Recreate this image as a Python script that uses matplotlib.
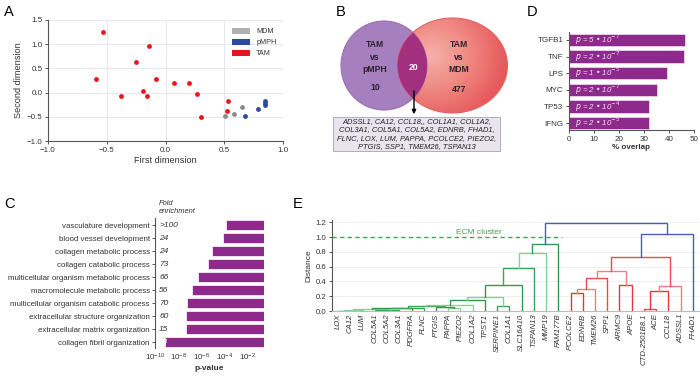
import numpy as np
import matplotlib.pyplot as plt
from matplotlib.patches import Ellipse, Patch, Rectangle
from matplotlib.colors import LinearSegmentedColormap

plt.rcParams['font.family'] = ['Liberation Sans', 'DejaVu Sans']

W, H = 700, 376

# panel A: MDS plot
tam_x = [-0.53, -0.59, -0.38, -0.25, -0.14, -0.19, -0.155, -0.08, 0.075, 0.20, 0.27, 0.305, 0.53, 0.52]
tam_y = [1.26, 0.29, -0.08, 0.63, 0.97, 0.03, -0.06, 0.29, 0.20, 0.19, -0.02, -0.50, -0.18, -0.39]
mdm_x = [0.505, 0.585, 0.65]
mdm_y = [-0.48, -0.44, -0.30]
pmph_x = [0.68, 0.785, 0.85, 0.85, 0.85]
pmph_y = [-0.49, -0.34, -0.18, -0.22, -0.25]

# panel B: venn counts
only_pmph = 10
shared = 20
only_mdm = 477
shared_genes = ["ADSSL1, CA12, CCL18,, COL1A1, COL1A2,",
                "COL3A1, COL5A1, COL5A2, EDNRB, FHAD1,",
                "FLNC, LOX, LUM, PAPPA, PCOLCE2, PIEZO2,",
                "PTGIS, SSP1, TMEM26, TSPAN13"]

# panel C: GO terms
go_terms = ["vasculature development", "blood vessel development",
            "collagen metabolic process", "collagen catabolic process",
            "multicellular organism metabolic process",
            "macromolecule metabolic process",
            "multicellular organism catabolic process",
            "extracellular structure organization",
            "extracellular matrix organization", "collagen fibril organization"]
go_logp = [-3.9, -4.1, -5.05, -5.4, -6.3, -6.85, -7.2, -7.3, -7.3, -9.1]
go_fold = [">100", "24", "24", "73", "66", "56", "70", "60", "15", "14"]

# panel D: upstream regulators
regulators = ["TGFB1", "TNF", "LPS", "MYC", "TP53", "IFNG"]
overlap_pct = [46.2, 46.1, 39.3, 35.1, 32.1, 32.1]
reg_p_mant = [5, 2, 1, 2, 2, 2]
reg_p_exp = [-7, -7, -5, -7, -4, -5]

# panel E: hierarchical clustering
leaf_names = ["LOX", "CA12", "LUM", "COL5A1", "COL5A2", "COL3A1", "PDGFRA", "FLNC",
              "PTGIS", "PAPPA", "PIEZO2", "COL1A2", "TPST1", "SERPINE1", "COL1A1",
              "SLC16A10", "TSPAN13", "MMP19", "FAM177B", "PCOLCE2", "EDNRB", "TMEM26",
              "SPP1", "ARMC9", "APOE", "CTD-2501B8.1", "ACE", "CCL18", "ADSSL1", "FHAD1"]
merge_left = [0, 30, 3, 32, 31, 34, 35, 9, 8, 36, 39, 40, 13, 41, 43, 44, 45, 46,
              19, 48, 49, 23, 50, 25, 53, 54, 52, 56, 47]
merge_right = [1, 2, 4, 5, 33, 6, 7, 10, 37, 38, 11, 12, 14, 42, 15, 16, 17, 18,
               20, 21, 22, 24, 51, 26, 27, 28, 55, 29, 57]
merge_height = [0.006, 0.012, 0.010, 0.018, 0.025, 0.035, 0.045, 0.040, 0.055, 0.065,
                0.080, 0.145, 0.068, 0.185, 0.347, 0.585, 0.790, 0.905,
                0.239, 0.297, 0.441, 0.351, 0.545, 0.027, 0.275, 0.338, 0.734,
                1.036, 1.185]
ecm_cut = 1.0

PURPLE = '#8e2a8c'
TXT = '#333333'


def px_axes(fig, l, t, r, b):
    return fig.add_axes([l / W, 1 - b / H, (r - l) / W, (b - t) / H])


def style_spines(ax):
    for s in ['top', 'right']:
        ax.spines[s].set_visible(False)
    for s in ['left', 'bottom']:
        ax.spines[s].set_color('#555555')
        ax.spines[s].set_linewidth(0.8)
    ax.tick_params(colors='#555555', labelcolor=TXT, length=2.5, width=0.7,
                   labelsize=5.8, pad=1.5)


fig = plt.figure(figsize=(W / 100, H / 100), dpi=100)

# panel letters
for lab, (x, y) in {'A': (4, 12), 'B': (336, 12), 'D': (527, 12),
                    'C': (4, 204), 'E': (293, 204)}.items():
    fig.text(x / W, 1 - y / H, lab, fontsize=10.5, va='center', ha='left')

# ---- A
ax = px_axes(fig, 48, 20, 283, 141)
ax.scatter(tam_x, tam_y, s=12, color='#e8151b', zorder=3, linewidths=0)
ax.scatter(mdm_x, mdm_y, s=12, color='#8a8a8a', zorder=3, linewidths=0)
ax.scatter(pmph_x, pmph_y, s=12, color='#2b4aa0', zorder=3, linewidths=0)
ax.set_xlim(-1.0, 1.0)
ax.set_ylim(-1.0, 1.5)
ax.set_xticks(np.arange(-1.0, 1.01, 0.5))
ax.set_yticks(np.arange(-1.0, 1.51, 0.5))
ax.xaxis.set_major_formatter(plt.FuncFormatter(lambda v, p: f'{v:.1f}'.replace('-', '\u2212')))
ax.yaxis.set_major_formatter(plt.FuncFormatter(lambda v, p: f'{v:.1f}'.replace('-', '\u2212')))
ax.grid(True, color='#e6e6f0', linewidth=0.7)
ax.set_axisbelow(True)
style_spines(ax)
ax.set_xlabel('First dimension', fontsize=6.6, color=TXT, labelpad=2)
ax.set_ylabel('Second dimension', fontsize=6.6, color=TXT, labelpad=3)
handles = [Patch(facecolor='#b0b0b0', label='MDM'),
           Patch(facecolor='#2b4aa0', label='pMPH'),
           Patch(facecolor='#e8151b', label='TAM')]
ax.legend(handles=handles, loc='upper right', bbox_to_anchor=(1.0, 0.99), frameon=False,
          fontsize=5.2, handlelength=2.6, handleheight=0.9, labelspacing=0.5,
          handletextpad=0.8, labelcolor=TXT)

# ---- B
axb = px_axes(fig, 330, 0, 515, 155)
axb.set_xlim(330, 515)
axb.set_ylim(155, 0)
axb.axis('off')
right_c = Ellipse((452.5, 65.5), 110, 95, facecolor='none', edgecolor='#e06464', lw=0.8, zorder=3)
axb.add_patch(right_c)
yy, xx = np.mgrid[0:155:0.5, 330:515:0.5]
dist = np.sqrt(((xx - 432) / 60.0) ** 2 + ((yy - 55) / 55.0) ** 2)
salmon = LinearSegmentedColormap.from_list('salmon', ['#f7b0aa', '#f08680', '#e55458'])
img = axb.imshow(dist, extent=(330, 515, 155, 0), cmap=salmon, vmin=0, vmax=1.3,
                 zorder=1, aspect='auto', interpolation='bilinear')
img.set_clip_path(Ellipse((452.5, 65.5), 110, 95, transform=axb.transData))
left_c = Ellipse((384, 65.5), 86, 89, facecolor='#a67fbe', edgecolor='#9a70b2', lw=0.8, zorder=2)
axb.add_patch(left_c)
inter = Ellipse((384, 65.5), 86, 89, facecolor='#a3307e', edgecolor='none', zorder=3)
axb.add_patch(inter)
inter.set_clip_path(Ellipse((452.5, 65.5), 110, 95, transform=axb.transData))
axb.set_xlim(330, 515)
axb.set_ylim(155, 0)
kw = dict(ha='center', va='center', fontsize=6.2, fontweight='bold', zorder=4)
axb.text(375, 57, 'TAM\nvs\npMPH', color='#2a2030', linespacing=1.45, **kw)
axb.text(375, 88, str(only_pmph), color='#2a2030', **kw)
axb.text(459, 57, 'TAM\nvs\nMDM', color='#2a2030', linespacing=1.45, **kw)
axb.text(459, 89, str(only_mdm), color='#2a2030', **kw)
axb.text(414, 67, str(shared), color='white', **kw)
axb.annotate('', xy=(414, 117), xytext=(414, 88),
             arrowprops=dict(arrowstyle='-|>', color='black', lw=1.0,
                             mutation_scale=6), zorder=5)
axb.add_patch(Rectangle((333, 117), 167, 34, facecolor='#e9e5ef', edgecolor='#a9a3b3',
                        lw=0.6, zorder=4))
axb.text(416.5, 134, '\n'.join(shared_genes), ha='center', va='center', fontsize=5.4,
         fontstyle='italic', color='#222222', linespacing=1.3, zorder=5)

# ---- D
axd = px_axes(fig, 569, 32, 694, 130)
yd = np.arange(len(regulators))
axd.barh(yd, overlap_pct, height=0.74, color=PURPLE, edgecolor='#f0e0f0', linewidth=0.5)
for i in range(len(regulators)):
    axd.text(2.4, yd[i], f'$p$ = {reg_p_mant[i]} \u2022 10$^{{{reg_p_exp[i]}}}$',
             va='center', ha='left', fontsize=5.6, fontstyle='italic', color='#f0e6f2')
axd.set_yticks(yd)
axd.set_yticklabels(regulators)
axd.set_ylim(5.42, -0.48)
axd.set_xlim(0, 50)
axd.set_xticks(range(0, 51, 10))
style_spines(axd)
axd.set_xlabel('% overlap', fontsize=5.8, fontweight='bold', color=TXT, labelpad=1)

# ---- C
axc = px_axes(fig, 155, 218, 264, 348)
yc = np.arange(len(go_terms))
right_end = 10 ** -0.6
pv = 10.0 ** np.array(go_logp)
axc.barh(yc, right_end - pv, left=pv, height=0.76, color=PURPLE,
         edgecolor='white', linewidth=0.5)
axc.set_xscale('log')
axc.set_xlim(1e-10, right_end)
axc.set_xticks([1e-10, 1e-8, 1e-6, 1e-4, 1e-2])
axc.minorticks_off()
axc.set_yticks(yc)
axc.set_yticklabels(go_terms)
axc.set_ylim(9.46, -0.54)
style_spines(axc)
axc.spines['bottom'].set_visible(False)
axc.tick_params(axis='x', length=0, pad=3)
axc.tick_params(axis='y', labelsize=5.7, pad=1.2)
for i, f in enumerate(go_fold):
    axc.text(2.3e-10, yc[i], f, va='center', ha='left', fontsize=6.0, fontstyle='italic',
             color='white' if i == len(go_fold) - 1 else TXT)
axc.text(2.3e-10, -1.35, 'Fold\nenrichment', va='center', ha='left', fontsize=5.4,
         fontstyle='italic', color=TXT, linespacing=1.3)
axc.set_xlabel('p-value', fontsize=6.0, fontweight='bold', color=TXT, labelpad=1)

# ---- E
axe = px_axes(fig, 332, 220, 699, 311)
n_leaf = len(leaf_names)
node_x = [5 + 10 * i for i in range(n_leaf)]
node_h = [0.0] * n_leaf
green = ['#3da35a', '#86cf97', '#2f9a4c']
red = ['#e8353c', '#f07c82', '#e84a50']
blue = ['#4a5db3', '#4a5db3']
for k, (a, b, h) in enumerate(zip(merge_left, merge_right, merge_height)):
    xa, xb = node_x[a], node_x[b]
    ya, yb = node_h[a], node_h[b]
    if k <= 17:
        col = green[k % 3]
    elif k <= 26:
        col = red[k % 3]
    else:
        col = blue[k % 2]
    axe.plot([xa, xa, xb, xb], [ya, h, h, yb], color=col, lw=1.0,
             solid_joinstyle='miter', zorder=3)
    node_x.append((xa + xb) / 2)
    node_h.append(h)
axe.set_xlim(0, 10 * n_leaf)
axe.set_ylim(0, 1.23)
axe.set_yticks(np.arange(0, 1.21, 0.2))
axe.yaxis.set_major_formatter(plt.FuncFormatter(lambda v, p: f'{v:.1f}'))
axe.set_xticks(node_x[:n_leaf])
axe.set_xticklabels(leaf_names, rotation=90, fontstyle='italic')
axe.grid(True, axis='y', color='#efeff3', linewidth=0.7)
axe.set_axisbelow(True)
style_spines(axe)
axe.spines['bottom'].set_color('#bbbbbb')
axe.tick_params(axis='x', length=0, pad=2, labelsize=5.6)
axe.tick_params(axis='y', labelsize=5.6)
axe.set_ylabel('Distance', fontsize=6.0, color=TXT, labelpad=2)
green_leaves = node_x[18] + 3
axe.plot([0, green_leaves], [ecm_cut, ecm_cut], color='#3aa655', lw=1.0,
         ls=(0, (3, 2.5)), zorder=2)
axe.text(120, ecm_cut + 0.015, 'ECM cluster', color='#3aa655', fontsize=6.0,
         ha='center', va='bottom')

fig.savefig('out.png', dpi=100)
